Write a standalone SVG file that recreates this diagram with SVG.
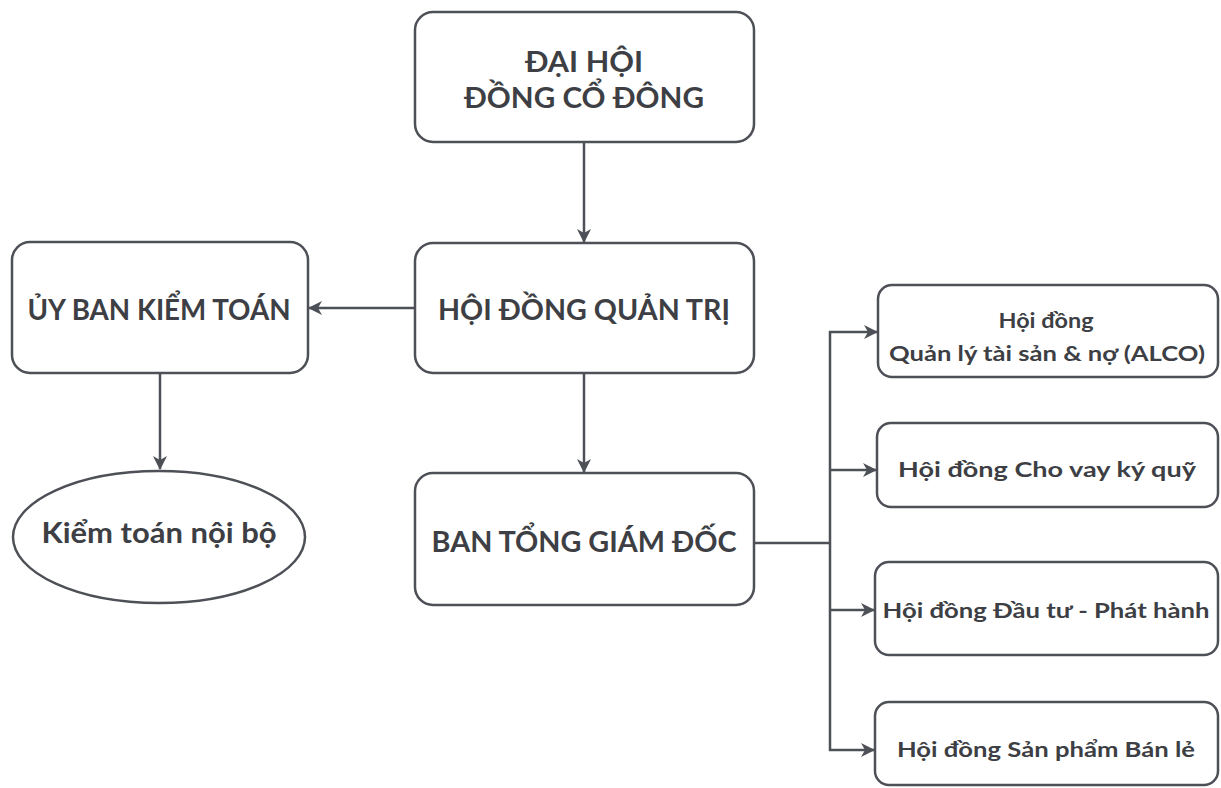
<svg xmlns="http://www.w3.org/2000/svg" width="1221" height="788" viewBox="0 0 1221 788">
<defs>
<style>
.box{fill:#fff;stroke:#4e5057;stroke-width:2.5}
.big{font-family:Lato,"Liberation Sans",sans-serif;font-weight:700;font-size:28px;fill:#3d3f45;text-anchor:middle}
.small{font-family:Lato,"Liberation Sans",sans-serif;font-weight:700;font-size:21px;fill:#3d3f45;text-anchor:middle}
.con{fill:none;stroke:#4e5057;stroke-width:2.5}
</style>
<marker id="arr" viewBox="0 0 14 14" refX="13" refY="7" markerWidth="14" markerHeight="14" markerUnits="userSpaceOnUse" orient="auto">
<path d="M0,0 L14,7 L0,14 L4,7 z" fill="#4e5057"/>
</marker>
</defs>
<rect width="1221" height="788" fill="#fff"/>
<g id="connectors">
<line class="con" x1="584" y1="142" x2="584" y2="242" marker-end="url(#arr)"/>
<line class="con" x1="415" y1="308" x2="309" y2="308" marker-end="url(#arr)"/>
<line class="con" x1="160" y1="373" x2="160" y2="469" marker-end="url(#arr)"/>
<line class="con" x1="584" y1="373" x2="584" y2="472" marker-end="url(#arr)"/>
<polyline class="con" points="754,543 830,543"/>
<line class="con" x1="830" y1="331" x2="830" y2="751"/>
<line class="con" x1="829" y1="332" x2="877" y2="332" marker-end="url(#arr)"/>
<line class="con" x1="829" y1="470" x2="876" y2="470" marker-end="url(#arr)"/>
<line class="con" x1="829" y1="610" x2="874" y2="610" marker-end="url(#arr)"/>
<line class="con" x1="829" y1="750" x2="874" y2="750" marker-end="url(#arr)"/>
</g>
<g id="n-dhdcd">
<rect class="box" x="415" y="12" width="339" height="130" rx="18"/>
<text class="big" x="584" y="72" textLength="118" lengthAdjust="spacingAndGlyphs">ĐẠI HỘI</text>
<text class="big" x="584" y="108" textLength="240" lengthAdjust="spacingAndGlyphs">ĐỒNG CỔ ĐÔNG</text>
</g>
<g id="n-hdqt">
<rect class="box" x="415" y="243" width="339" height="130" rx="18"/>
<text class="big" x="584" y="320" textLength="292" lengthAdjust="spacingAndGlyphs">HỘI ĐỒNG QUẢN TRỊ</text>
</g>
<g id="n-btgd">
<rect class="box" x="415" y="473" width="339" height="132" rx="18"/>
<text class="big" x="584" y="552" textLength="305" lengthAdjust="spacingAndGlyphs">BAN TỔNG GIÁM ĐỐC</text>
</g>
<g id="n-ubkt">
<rect class="box" x="12" y="242" width="296" height="131" rx="18"/>
<text class="big" x="159" y="320" textLength="263" lengthAdjust="spacingAndGlyphs">ỦY BAN KIỂM TOÁN</text>
</g>
<g id="n-ktnb">
<ellipse class="box" cx="159" cy="537" rx="146" ry="66"/>
<text class="big" x="159" y="543" textLength="235" lengthAdjust="spacingAndGlyphs">Kiểm toán nội bộ</text>
</g>
<g id="n-alco">
<rect class="box" x="878" y="285" width="340" height="92" rx="14"/>
<text class="small" x="1046" y="328" textLength="95" lengthAdjust="spacingAndGlyphs">Hội đồng</text>
<text class="small" x="1047" y="361" textLength="316" lengthAdjust="spacingAndGlyphs">Quản lý tài sản &amp; nợ (ALCO)</text>
</g>
<g id="n-cvkq">
<rect class="box" x="877" y="423" width="341" height="84" rx="14"/>
<text class="small" x="1047" y="477" textLength="298" lengthAdjust="spacingAndGlyphs">Hội đồng Cho vay ký quỹ</text>
</g>
<g id="n-dtph">
<rect class="box" x="875" y="562" width="343" height="93" rx="14"/>
<text class="small" x="1046" y="618" textLength="327" lengthAdjust="spacingAndGlyphs">Hội đồng Đầu tư - Phát hành</text>
</g>
<g id="n-spbl">
<rect class="box" x="875" y="702" width="343" height="83" rx="14"/>
<text class="small" x="1046" y="757" textLength="298" lengthAdjust="spacingAndGlyphs">Hội đồng Sản phẩm Bán lẻ</text>
</g>
</svg>
